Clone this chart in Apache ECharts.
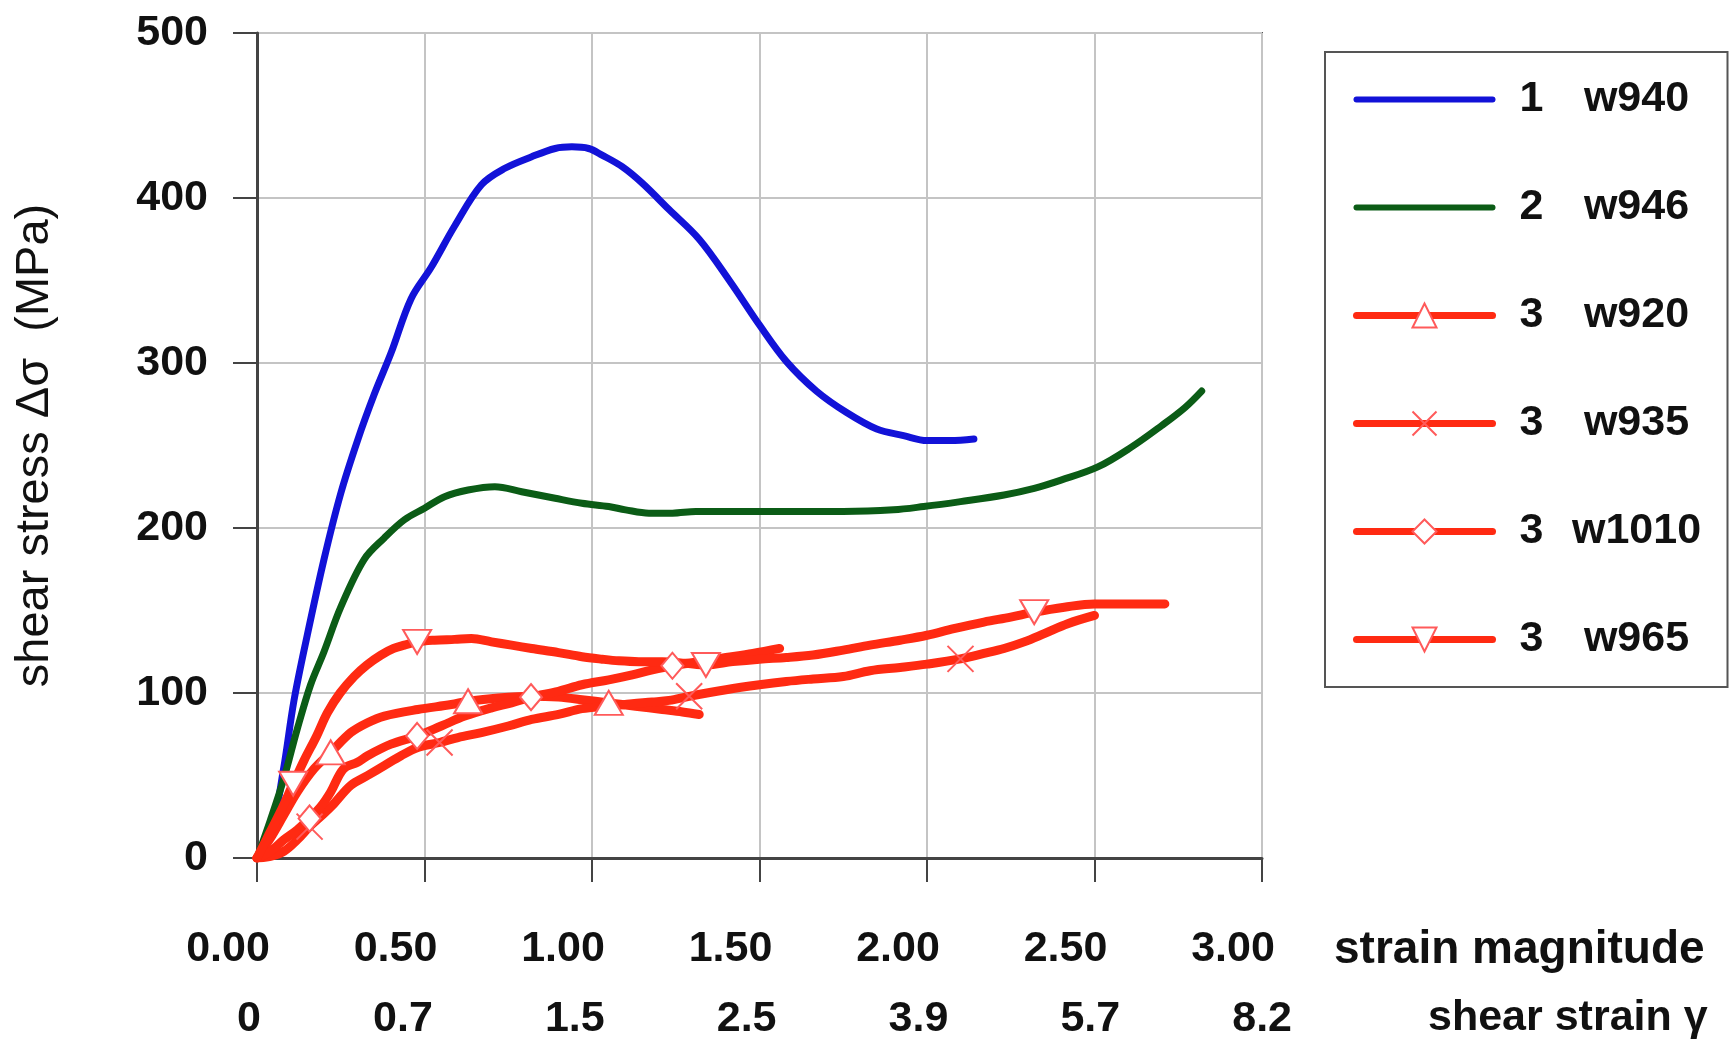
<!DOCTYPE html>
<html><head><meta charset="utf-8">
<script src="https://cdn.jsdelivr.net/npm/echarts@6/dist/echarts.min.js"></script>
<style>html,body{margin:0;padding:0;background:#fff;} #c{width:1736px;height:1047px;}</style>
</head><body><div id="c"></div>
<script>
// ---- tick labels ----
const strainTicks = ['0.00','0.50','1.00','1.50','2.00','2.50','3.00'];
const gammaTicks  = ['0','0.7','1.5','2.5','3.9','5.7','8.2'];
const seriesNames  = ['w940','w946','w920','w935','w1010','w965'];
const seriesGroups = ['1','2','3','3','3','3'];

// ---- 1 w940 ----
const w940X = [0,0.04,0.08,0.11,0.15,0.20,0.25,0.30,0.35,0.40,0.46,0.52,0.59,0.67,0.74,0.82,0.89,0.94,0.99,1.03,1.09,1.15,1.23,1.32,1.41,1.50,1.58,1.67,1.76,1.85,1.93,2.00,2.07,2.14];
const w940Y = [0,13,55,95,135,181,221,253,281,306,339,358,383,408,418,425,430,431,430,426,419,409,393,375,350,323,301,283,270,260,256,253,253,254];
// ---- 2 w946 ----
const w946X = [0,0.04,0.08,0.12,0.16,0.20,0.25,0.32,0.38,0.44,0.50,0.56,0.63,0.71,0.79,0.89,0.97,1.05,1.10,1.17,1.24,1.31,1.43,1.60,1.75,1.90,1.99,2.10,2.23,2.32,2.40,2.51,2.61,2.70,2.77,2.82];
const w946Y = [0,23,48,78,105,125,152,181,194,205,212,219,223,225,222,218,215,213,211,209,209,210,210,210,210,211,213,216,220,224,229,237,249,262,273,283];
// ---- 3 w920 (triangle up) ----
const w920X = [0,0.04,0.08,0.12,0.17,0.22,0.28,0.33,0.38,0.48,0.58,0.63,0.72,0.82,0.90,0.97,1.05,1.13,1.21,1.27,1.32];
const w920Y = [0,12,26,40,54,64,76,82,86,90,93,95,97,98,97.5,96,94,92,90,88.5,87];
const w920Marks = [0.22,0.63,1.05];
// ---- 3 w935 (cross) ----
const w935X = [0,0.04,0.08,0.12,0.157,0.20,0.23,0.28,0.33,0.38,0.43,0.48,0.545,0.60,0.67,0.75,0.82,0.90,0.97,1.05,1.12,1.18,1.23,1.29,1.40,1.50,1.58,1.66,1.75,1.83,1.92,2.00,2.10,2.17,2.23,2.29,2.35,2.42,2.50];
const w935Y = [0,1,4,11,19,27,33,44,50,56,62,67,70,73,76,80,84,87,90.5,92,93.5,94.5,95.5,98,102,105,107,108.5,110,113.5,115.5,117.5,120.7,124,127,131,136,142,147];
const w935Marks = [0.157,0.545,1.29,2.10];
// ---- 3 w1010 (diamond) ----
const w1010X = [0,0.04,0.08,0.12,0.157,0.19,0.22,0.258,0.30,0.33,0.40,0.478,0.55,0.62,0.70,0.76,0.818,0.90,0.97,1.05,1.12,1.18,1.24,1.32,1.40,1.48,1.56];
const w1010Y = [0,4,11,17,24,31,40,54,58,62,69,74,80,86,91,94,97.5,101,105,108,111,114,116.5,119,121.5,124,127];
const w1010Marks = [0.157,0.478,0.818,1.24];
// ---- 3 w965 (triangle down) ----
const w965X = [0,0.03,0.07,0.108,0.14,0.178,0.21,0.248,0.29,0.328,0.37,0.408,0.44,0.478,0.53,0.59,0.64,0.70,0.76,0.82,0.90,0.97,1.03,1.08,1.14,1.21,1.28,1.34,1.42,1.50,1.58,1.66,1.75,1.83,1.92,2.00,2.08,2.17,2.25,2.32,2.41,2.50,2.60,2.71];
const w965Y = [0,12,28,45,59,74,88,100,110,117,123,127,129,131,132,132.5,133,131,129,127,124.5,122,120.5,119.5,119,119,118,117,119,120.5,121.5,123,126,129,132,135,139,143,146,149,152,154,154,154];
const w965Marks = [0.108,0.478,1.34,2.32];

const FONT = 'Liberation Sans, Arial, sans-serif';
const BLUE = '#1212d8', GREEN = '#0b5c16', RED = '#ff2a12', MARK = '#ff5a5a';

function build(xs, ys, marks) {
  return xs.map((x, i) => (marks && marks.indexOf(x) >= 0) ? [x, ys[i]] : { value: [x, ys[i]], symbol: 'none' });
}
function mk(name, xs, ys, marks, color, width, symbol, size) {
  return {
    name, type: 'line', xAxisIndex: 0, yAxisIndex: 0,
    data: build(xs, ys, marks),
    symbol: symbol || 'none', symbolSize: size || 20,
    showSymbol: true, showAllSymbol: true,
    smooth: 0.35,
    lineStyle: { color, width, cap: 'round', join: 'round' },
    itemStyle: symbol ? { color: '#fff', borderColor: MARK, borderWidth: 2 } : { color },
    emphasis: { disabled: true }
  };
}

const series = [
  mk('w940', w940X, w940Y, null, BLUE, 7),
  mk('w946', w946X, w946Y, null, GREEN, 7),
  mk('w920', w920X, w920Y, w920Marks, RED, 9, 'triangle', [28, 24]),
  mk('w935', w935X, w935Y, w935Marks, RED, 9, 'path://M0,0L20,20M20,0L0,20', [26, 26]),
  mk('w1010', w1010X, w1010Y, w1010Marks, RED, 9, 'diamond', [22, 26]),
  mk('w965', w965X, w965Y, w965Marks, RED, 9, 'path://M0,0L20,0L10,18Z', [28, 24])
];

const labelFont = { fontFamily: FONT, fontSize: 43, fontWeight: 'bold', color: '#111' };

const chart = echarts.init(document.getElementById('c'), null, { renderer: 'canvas' });
chart.setOption({
  animation: false,
  backgroundColor: '#fff',
  grid: [
    { left: 257, right: 474, top: 33, bottom: 189, show: true, borderColor: '#555', borderWidth: 2, backgroundColor: 'transparent' },
    { left: 261, width: 1031, top: 33, bottom: 189, show: false }
  ],
  xAxis: [
    {
      type: 'value', gridIndex: 0, min: 0, max: 3, interval: 0.5,
      axisLine: { show: true, onZero: false, lineStyle: { color: '#444', width: 3 } },
      axisTick: { show: true, length: 24, lineStyle: { color: '#444', width: 2 } },
      splitLine: { show: true, lineStyle: { color: '#c4c4c4', width: 2 } },
      axisLabel: Object.assign({
        formatter: v => strainTicks[Math.round(v / 0.5)],
        margin: 70, padding: [0, 58, 0, 0]
      }, labelFont),
      name: '{sp|}\n{t|strain magnitude}', nameLocation: 'end', nameGap: 72,
      nameTextStyle: {
        align: 'left', verticalAlign: 'middle',
        rich: { sp: { height: 184, width: 1 }, t: Object.assign({ lineHeight: 44 }, labelFont, { fontSize: 46 }) }
      }
    },
    {
      type: 'value', gridIndex: 1, min: 0, max: 3, interval: 0.5, position: 'bottom',
      axisLine: { show: false }, axisTick: { show: false }, splitLine: { show: false },
      axisLabel: Object.assign({
        formatter: v => gammaTicks[Math.round(v / 0.5)],
        margin: 140, align: 'right'
      }, labelFont),
      name: '{sp|}\n{t|shear strain γ}', nameLocation: 'end', nameGap: 136,
      nameTextStyle: {
        align: 'left', verticalAlign: 'middle',
        rich: { sp: { height: 320, width: 1 }, t: Object.assign({ lineHeight: 44 }, labelFont) }
      }
    }
  ],
  yAxis: [
    {
      type: 'value', gridIndex: 0, min: 0, max: 500, interval: 100,
      axisLine: { show: true, lineStyle: { color: '#444', width: 3 } },
      axisTick: { show: true, length: 24, lineStyle: { color: '#444', width: 2 } },
      splitLine: { show: true, lineStyle: { color: '#c4c4c4', width: 2 } },
      axisLabel: Object.assign({ margin: 49 }, labelFont),
      name: 'shear stress Δσ  (MPa)', nameLocation: 'middle', nameGap: 198,
      nameTextStyle: { fontFamily: FONT, fontSize: 47, color: '#111' }
    },
    { type: 'value', gridIndex: 1, min: 0, max: 1, show: false }
  ],
  legend: {
    orient: 'vertical', left: 1325, top: 52,
    padding: [26, 20, 26, 28], itemWidth: 136, itemHeight: 30, itemGap: 65,
    borderColor: '#555', borderWidth: 2, backgroundColor: '#fff',
    selectedMode: false,
    data: seriesNames.map((n, i) => ({
      name: n,
      itemStyle: i < 2 ? { opacity: 0 } : { color: '#fff', borderColor: MARK, borderWidth: 2 },
      lineStyle: { width: i < 2 ? 6 : 7 }
    })),
    formatter: n => '{n|' + seriesGroups[seriesNames.indexOf(n)] + '}{s|' + n + '}',
    textStyle: {
      fontFamily: FONT, fontSize: 43, fontWeight: 'bold', color: '#111', lineHeight: 30,
      rich: {
        n: Object.assign({ width: 68, align: 'center', lineHeight: 30 }, labelFont),
        s: Object.assign({ width: 142, align: 'center', lineHeight: 30 }, labelFont)
      }
    }
  },
  series
});
</script></body></html>
